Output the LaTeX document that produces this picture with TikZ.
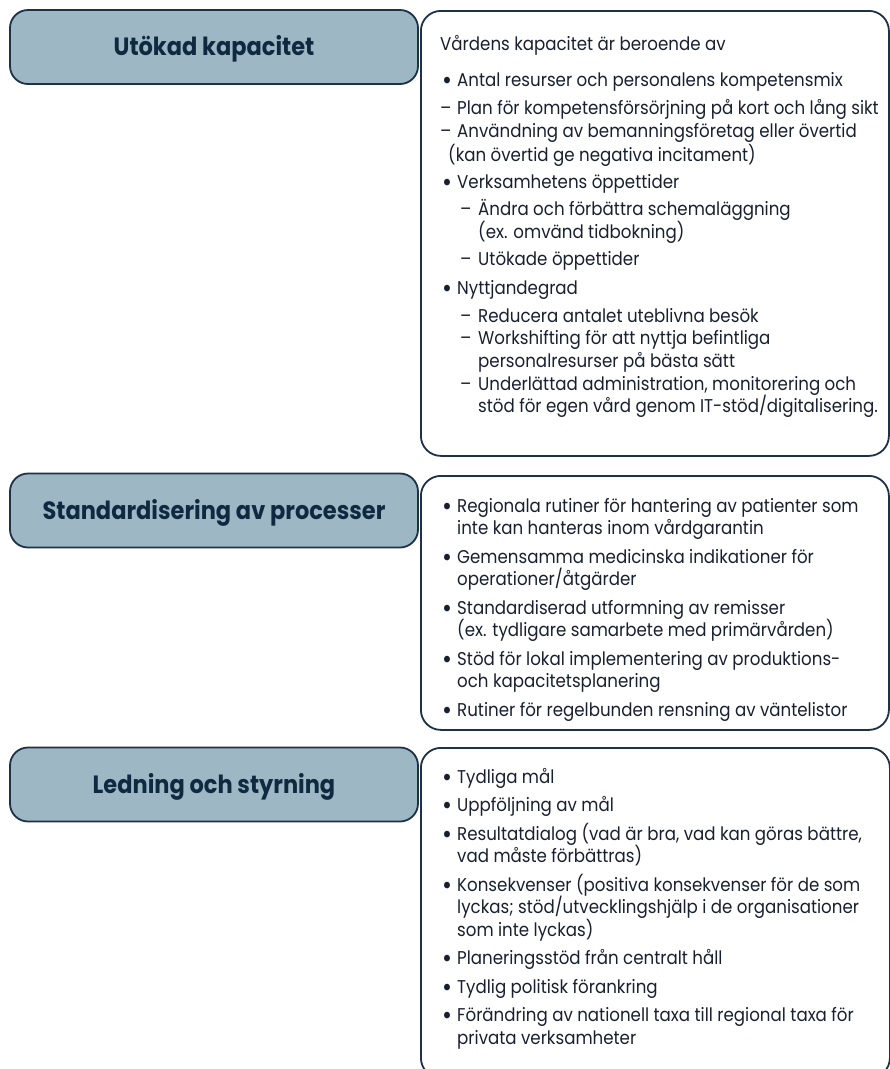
\documentclass[tikz,border=0pt]{standalone}
\usepackage{fontspec}
\setmainfont{Poppins}[FakeStretch=0.9]
\definecolor{hfill}{HTML}{9EB7C5}
\definecolor{hline}{HTML}{1D3148}
\definecolor{htext}{HTML}{0F2A40}
\definecolor{btext}{HTML}{18202F}
\tikzset{headbox/.style = {draw=hline, fill=hfill, line width=1.8pt, rounded corners=18pt,
                           minimum width=408pt, minimum height=74pt, text=htext,
                           font=\fontsize{25}{30}\selectfont\bfseries, text height=17pt, text depth=0pt}}
\tikzset{listbox/.style = {draw=hline, line width=1.8pt, rounded corners=20pt, anchor=north west, inner sep=0}}
\tikzset{line/.style = {anchor=base west, inner sep=0, text=btext, font=\fontsize{18.5}{22}\selectfont}}
\newcommand{\bul}{\makebox[17pt][l]{\hspace*{2pt}\raisebox{-0.17em}{\scalebox{1.45}{•}}}}
\newcommand{\ldash}{\makebox[17pt][l]{–}}
\newcommand{\sdash}{\makebox[18pt][l]{–}}

\begin{document}
\begin{tikzpicture}[x=1pt, y=-1pt]
      \useasboundingbox (0, 0) rectangle (890, 1069);

      \node [listbox, minimum width=468pt, minimum height=445pt] (kapList) at (420, 10) {};
      \node [listbox, minimum width=468pt, minimum height=254pt] (stdList) at (420, 475) {};
      \node [listbox, minimum width=469pt, minimum height=330pt] (ledList) at (420, 747) {};

      \node [headbox] (kap) at (214, 47) {Utökad kapacitet};
      \node [headbox] (std) at (214, 510.5) {Standardisering av processer};
      \node [headbox] (led) at (214, 784.5) {Ledning och styrning};

      \node [line] (k1) at (440, 50) {Vårdens kapacitet är beroende av};
      \node [line] (k2) at (440, 86) {\bul Antal resurser och personalens kompetensmix};
      \node [line] (k3) at (440, 114.5) {\ldash Plan för kompetensförsörjning på kort och lång sikt};
      \node [line] (k4) at (440, 137) {\ldash Användning av bemanningsföretag eller övertid};
      \node [line] (k5) at (448, 161.5) {(kan övertid ge negativa incitament)};
      \node [line] (k6) at (440, 188.5) {\bul Verksamhetens öppettider};
      \node [line] (k7) at (460, 215.5) {\sdash Ändra och förbättra schemaläggning};
      \node [line] (k8) at (478, 238) {(ex. omvänd tidbokning)};
      \node [line] (k9) at (460, 265) {\sdash Utökade öppettider};
      \node [line] (k10) at (440, 294) {\bul Nyttjandegrad};
      \node [line] (k11) at (460, 322) {\sdash Reducera antalet uteblivna besök};
      \node [line] (k12) at (460, 344.5) {\sdash Workshifting för att nyttja befintliga};
      \node [line] (k13) at (478, 367) {personalresurser på bästa sätt};
      \node [line] (k14) at (460, 390) {\sdash Underlättad administration, monitorering och};
      \node [line] (k15) at (478, 412.5) {stöd för egen vård genom IT-stöd/digitalisering.};

      \node [line] (s1) at (440, 512) {\bul Regionala rutiner för hantering av patienter som};
      \node [line] (s2) at (457, 534.5) {inte kan hanteras inom vårdgarantin};
      \node [line] (s3) at (440, 563) {\bul Gemensamma medicinska indikationer för};
      \node [line] (s4) at (457, 585.5) {operationer/åtgärder};
      \node [line] (s5) at (440, 614) {\bul Standardiserad utformning av remisser};
      \node [line] (s6) at (457, 636.5) {(ex. tydligare samarbete med primärvården)};
      \node [line] (s7) at (440, 665) {\bul Stöd för lokal implementering av produktions-};
      \node [line] (s8) at (457, 687.5) {och kapacitetsplanering};
      \node [line] (s9) at (440, 716) {\bul Rutiner för regelbunden rensning av väntelistor};

      \node [line] (l1) at (440, 783) {\bul Tydliga mål};
      \node [line] (l2) at (440, 811.5) {\bul Uppföljning av mål};
      \node [line] (l3) at (440, 840) {\bul Resultatdialog (vad är bra, vad kan göras bättre,};
      \node [line] (l4) at (457, 862.5) {vad måste förbättras)};
      \node [line] (l5) at (440, 891) {\bul Konsekvenser (positiva konsekvenser för de som};
      \node [line] (l6) at (457, 913.5) {lyckas; stöd/utvecklingshjälp i de organisationer};
      \node [line] (l7) at (457, 936) {som inte lyckas)};
      \node [line] (l8) at (440, 964.5) {\bul Planeringsstöd från centralt håll};
      \node [line] (l9) at (440, 993) {\bul Tydlig politisk förankring};
      \node [line] (l10) at (440, 1021.5) {\bul Förändring av nationell taxa till regional taxa för};
      \node [line] (l11) at (457, 1044) {privata verksamheter};
    \end{tikzpicture}
\end{document}
